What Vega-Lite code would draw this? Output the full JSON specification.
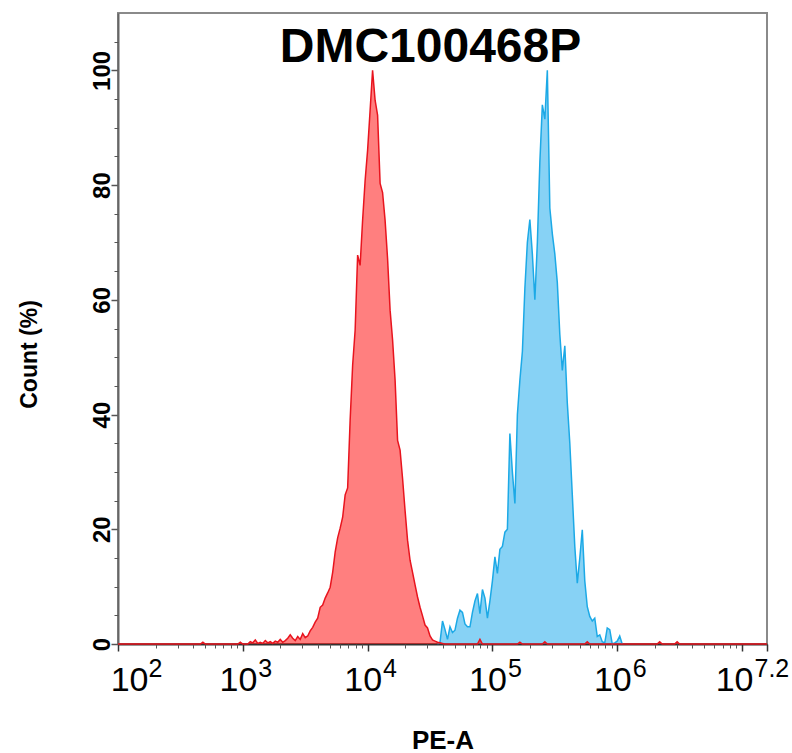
{
  "$schema": "https://vega.github.io/schema/vega-lite/v6.json",
  "width": 649,
  "height": 631,
  "autosize": {"type": "none"},
  "padding": {"left": 118, "top": 13, "right": 25, "bottom": 109},
  "background": "white",
  "config": {"view": {"stroke": "#8a8a8a", "strokeWidth": 2}, "font": "Liberation Sans"},
  "datasets": {
    "hist": [
      {"series": "control", "PE_A": 100, "count_pct": 0},
      {"series": "control", "PE_A": 457.1, "count_pct": 0},
      {"series": "control", "PE_A": 478.6, "count_pct": 0.3},
      {"series": "control", "PE_A": 501.2, "count_pct": 0},
      {"series": "control", "PE_A": 912, "count_pct": 0},
      {"series": "control", "PE_A": 955, "count_pct": 0.3},
      {"series": "control", "PE_A": 1000, "count_pct": 0},
      {"series": "control", "PE_A": 1096, "count_pct": 0},
      {"series": "control", "PE_A": 1148, "count_pct": 0.4},
      {"series": "control", "PE_A": 1202, "count_pct": 0.2},
      {"series": "control", "PE_A": 1259, "count_pct": 0.7},
      {"series": "control", "PE_A": 1318, "count_pct": 0.1},
      {"series": "control", "PE_A": 1380, "count_pct": 0.3},
      {"series": "control", "PE_A": 1445, "count_pct": 0.1},
      {"series": "control", "PE_A": 1514, "count_pct": 0.6},
      {"series": "control", "PE_A": 1585, "count_pct": 0.2},
      {"series": "control", "PE_A": 1660, "count_pct": 0.4},
      {"series": "control", "PE_A": 1738, "count_pct": 0.1},
      {"series": "control", "PE_A": 1820, "count_pct": 0.5},
      {"series": "control", "PE_A": 1905, "count_pct": 0.3},
      {"series": "control", "PE_A": 1995, "count_pct": 0.8},
      {"series": "control", "PE_A": 2089, "count_pct": 0.3},
      {"series": "control", "PE_A": 2188, "count_pct": 0.6},
      {"series": "control", "PE_A": 2291, "count_pct": 1.0},
      {"series": "control", "PE_A": 2399, "count_pct": 1.6},
      {"series": "control", "PE_A": 2512, "count_pct": 1.0},
      {"series": "control", "PE_A": 2630, "count_pct": 0.6},
      {"series": "control", "PE_A": 2754, "count_pct": 1.3},
      {"series": "control", "PE_A": 2884, "count_pct": 0.8},
      {"series": "control", "PE_A": 3020, "count_pct": 1.8},
      {"series": "control", "PE_A": 3162, "count_pct": 1.1},
      {"series": "control", "PE_A": 3311, "count_pct": 1.4},
      {"series": "control", "PE_A": 3467, "count_pct": 2.3},
      {"series": "control", "PE_A": 3631, "count_pct": 2.9},
      {"series": "control", "PE_A": 3802, "count_pct": 3.8},
      {"series": "control", "PE_A": 3981, "count_pct": 4.5},
      {"series": "control", "PE_A": 4169, "count_pct": 6.4},
      {"series": "control", "PE_A": 4365, "count_pct": 6.8},
      {"series": "control", "PE_A": 4571, "count_pct": 8.0},
      {"series": "control", "PE_A": 4786, "count_pct": 8.9},
      {"series": "control", "PE_A": 5012, "count_pct": 9.9},
      {"series": "control", "PE_A": 5248, "count_pct": 12.5},
      {"series": "control", "PE_A": 5495, "count_pct": 16.0},
      {"series": "control", "PE_A": 5754, "count_pct": 18.5},
      {"series": "control", "PE_A": 6026, "count_pct": 20.2},
      {"series": "control", "PE_A": 6310, "count_pct": 22.1},
      {"series": "control", "PE_A": 6607, "count_pct": 26.0},
      {"series": "control", "PE_A": 6918, "count_pct": 27.2},
      {"series": "control", "PE_A": 7244, "count_pct": 39.0},
      {"series": "control", "PE_A": 7586, "count_pct": 48.6},
      {"series": "control", "PE_A": 7943, "count_pct": 54.7},
      {"series": "control", "PE_A": 8318, "count_pct": 67.8},
      {"series": "control", "PE_A": 8710, "count_pct": 66.0},
      {"series": "control", "PE_A": 9120, "count_pct": 73.9},
      {"series": "control", "PE_A": 9550, "count_pct": 80.8},
      {"series": "control", "PE_A": 10000, "count_pct": 86.1},
      {"series": "control", "PE_A": 10470, "count_pct": 93.0},
      {"series": "control", "PE_A": 10960, "count_pct": 100},
      {"series": "control", "PE_A": 11480, "count_pct": 94.8},
      {"series": "control", "PE_A": 12020, "count_pct": 92.2},
      {"series": "control", "PE_A": 12590, "count_pct": 80.3},
      {"series": "control", "PE_A": 13180, "count_pct": 78.7},
      {"series": "control", "PE_A": 13800, "count_pct": 73.9},
      {"series": "control", "PE_A": 14450, "count_pct": 67.2},
      {"series": "control", "PE_A": 15140, "count_pct": 58.2},
      {"series": "control", "PE_A": 15850, "count_pct": 53.0},
      {"series": "control", "PE_A": 16600, "count_pct": 46.0},
      {"series": "control", "PE_A": 17380, "count_pct": 35.5},
      {"series": "control", "PE_A": 18200, "count_pct": 33.8},
      {"series": "control", "PE_A": 19050, "count_pct": 28.9},
      {"series": "control", "PE_A": 19950, "count_pct": 23.3},
      {"series": "control", "PE_A": 20890, "count_pct": 18.1},
      {"series": "control", "PE_A": 21880, "count_pct": 14.6},
      {"series": "control", "PE_A": 22910, "count_pct": 12.5},
      {"series": "control", "PE_A": 23990, "count_pct": 10.3},
      {"series": "control", "PE_A": 25120, "count_pct": 8.2},
      {"series": "control", "PE_A": 26300, "count_pct": 6.4},
      {"series": "control", "PE_A": 27540, "count_pct": 4.9},
      {"series": "control", "PE_A": 28840, "count_pct": 3.3},
      {"series": "control", "PE_A": 30200, "count_pct": 2.8},
      {"series": "control", "PE_A": 31620, "count_pct": 1.4},
      {"series": "control", "PE_A": 33110, "count_pct": 0.7},
      {"series": "control", "PE_A": 34670, "count_pct": 0.5},
      {"series": "control", "PE_A": 36310, "count_pct": 0.3},
      {"series": "control", "PE_A": 38020, "count_pct": 0.2},
      {"series": "control", "PE_A": 39810, "count_pct": 0.1},
      {"series": "control", "PE_A": 41690, "count_pct": 0},
      {"series": "control", "PE_A": 75860, "count_pct": 0},
      {"series": "control", "PE_A": 79430, "count_pct": 0.8},
      {"series": "control", "PE_A": 83180, "count_pct": 0},
      {"series": "control", "PE_A": 158500, "count_pct": 0},
      {"series": "control", "PE_A": 166000, "count_pct": 0.3},
      {"series": "control", "PE_A": 173800, "count_pct": 0},
      {"series": "control", "PE_A": 251200, "count_pct": 0},
      {"series": "control", "PE_A": 263000, "count_pct": 0.4},
      {"series": "control", "PE_A": 275400, "count_pct": 0},
      {"series": "control", "PE_A": 549500, "count_pct": 0},
      {"series": "control", "PE_A": 575400, "count_pct": 0.4},
      {"series": "control", "PE_A": 602600, "count_pct": 0},
      {"series": "control", "PE_A": 2089000, "count_pct": 0},
      {"series": "control", "PE_A": 2188000, "count_pct": 0.4},
      {"series": "control", "PE_A": 2291000, "count_pct": 0},
      {"series": "control", "PE_A": 2884000, "count_pct": 0},
      {"series": "control", "PE_A": 3020000, "count_pct": 0.4},
      {"series": "control", "PE_A": 3162000, "count_pct": 0},
      {"series": "control", "PE_A": 15848931, "count_pct": 0},
      {"series": "sample", "PE_A": 36310, "count_pct": 0},
      {"series": "sample", "PE_A": 38020, "count_pct": 0.3},
      {"series": "sample", "PE_A": 39810, "count_pct": 4.0},
      {"series": "sample", "PE_A": 41690, "count_pct": 2.5},
      {"series": "sample", "PE_A": 43650, "count_pct": 0.8},
      {"series": "sample", "PE_A": 45710, "count_pct": 3.0},
      {"series": "sample", "PE_A": 47860, "count_pct": 2.0},
      {"series": "sample", "PE_A": 50120, "count_pct": 2.4},
      {"series": "sample", "PE_A": 52480, "count_pct": 4.5},
      {"series": "sample", "PE_A": 54950, "count_pct": 5.9},
      {"series": "sample", "PE_A": 57540, "count_pct": 5.5},
      {"series": "sample", "PE_A": 60260, "count_pct": 3.5},
      {"series": "sample", "PE_A": 63100, "count_pct": 3.0},
      {"series": "sample", "PE_A": 66070, "count_pct": 3.0},
      {"series": "sample", "PE_A": 69180, "count_pct": 5.5},
      {"series": "sample", "PE_A": 72440, "count_pct": 7.5},
      {"series": "sample", "PE_A": 75860, "count_pct": 8.8},
      {"series": "sample", "PE_A": 79430, "count_pct": 5.3},
      {"series": "sample", "PE_A": 83180, "count_pct": 9.5},
      {"series": "sample", "PE_A": 87100, "count_pct": 8.0},
      {"series": "sample", "PE_A": 91200, "count_pct": 4.5},
      {"series": "sample", "PE_A": 95500, "count_pct": 7.5},
      {"series": "sample", "PE_A": 100000, "count_pct": 11.0},
      {"series": "sample", "PE_A": 104700, "count_pct": 15.2},
      {"series": "sample", "PE_A": 109600, "count_pct": 12.3},
      {"series": "sample", "PE_A": 114800, "count_pct": 16.5},
      {"series": "sample", "PE_A": 120200, "count_pct": 17.0},
      {"series": "sample", "PE_A": 125900, "count_pct": 19.5},
      {"series": "sample", "PE_A": 131800, "count_pct": 20.0},
      {"series": "sample", "PE_A": 138000, "count_pct": 36.7},
      {"series": "sample", "PE_A": 144500, "count_pct": 30.0},
      {"series": "sample", "PE_A": 151400, "count_pct": 24.5},
      {"series": "sample", "PE_A": 158500, "count_pct": 40.0},
      {"series": "sample", "PE_A": 166000, "count_pct": 46.0},
      {"series": "sample", "PE_A": 173800, "count_pct": 51.0},
      {"series": "sample", "PE_A": 182000, "count_pct": 62.0},
      {"series": "sample", "PE_A": 190500, "count_pct": 70.0},
      {"series": "sample", "PE_A": 199500, "count_pct": 74.0},
      {"series": "sample", "PE_A": 208900, "count_pct": 68.0},
      {"series": "sample", "PE_A": 218800, "count_pct": 60.0},
      {"series": "sample", "PE_A": 229100, "count_pct": 70.0},
      {"series": "sample", "PE_A": 239900, "count_pct": 84.0},
      {"series": "sample", "PE_A": 251200, "count_pct": 94.0},
      {"series": "sample", "PE_A": 263000, "count_pct": 91.5},
      {"series": "sample", "PE_A": 275400, "count_pct": 100},
      {"series": "sample", "PE_A": 288400, "count_pct": 76.0},
      {"series": "sample", "PE_A": 302000, "count_pct": 71.5},
      {"series": "sample", "PE_A": 316200, "count_pct": 68.0},
      {"series": "sample", "PE_A": 331100, "count_pct": 63.0},
      {"series": "sample", "PE_A": 346700, "count_pct": 54.0},
      {"series": "sample", "PE_A": 363100, "count_pct": 47.7},
      {"series": "sample", "PE_A": 380200, "count_pct": 52.0},
      {"series": "sample", "PE_A": 398100, "count_pct": 42.0},
      {"series": "sample", "PE_A": 416900, "count_pct": 35.0},
      {"series": "sample", "PE_A": 436500, "count_pct": 26.0},
      {"series": "sample", "PE_A": 457100, "count_pct": 17.0},
      {"series": "sample", "PE_A": 478600, "count_pct": 10.6},
      {"series": "sample", "PE_A": 501200, "count_pct": 15.0},
      {"series": "sample", "PE_A": 524800, "count_pct": 19.9},
      {"series": "sample", "PE_A": 549500, "count_pct": 11.0},
      {"series": "sample", "PE_A": 575400, "count_pct": 6.5},
      {"series": "sample", "PE_A": 602600, "count_pct": 4.8},
      {"series": "sample", "PE_A": 631000, "count_pct": 4.0},
      {"series": "sample", "PE_A": 660700, "count_pct": 4.5},
      {"series": "sample", "PE_A": 691800, "count_pct": 1.3},
      {"series": "sample", "PE_A": 724400, "count_pct": 1.6},
      {"series": "sample", "PE_A": 758600, "count_pct": 0.4},
      {"series": "sample", "PE_A": 794300, "count_pct": 0.2},
      {"series": "sample", "PE_A": 831800, "count_pct": 2.8},
      {"series": "sample", "PE_A": 871000, "count_pct": 2.5},
      {"series": "sample", "PE_A": 912000, "count_pct": 0},
      {"series": "sample", "PE_A": 955000, "count_pct": 0.2},
      {"series": "sample", "PE_A": 1000000, "count_pct": 0.5},
      {"series": "sample", "PE_A": 1047000, "count_pct": 1.4},
      {"series": "sample", "PE_A": 1096000, "count_pct": 0}
    ]
  },
  "data": {"name": "hist"},
  "layer": [
    {
      "transform": [{"filter": "datum.series === 'sample'"}],
      "mark": {"type": "area", "color": "#0FA5EB", "fillOpacity": 0.5, "interpolate": "linear"},
      "encoding": {
        "x": {"field": "PE_A", "type": "quantitative", "scale": {"type": "log", "domain": [100, 15848931.924611135], "nice": false},
          "axis": {"orient": "bottom", "values": [100, 1000, 10000, 100000, 1000000, 10000000, 15848931.924611135],
            "labelExpr": "datum.value > 9000000 && datum.value < 11000000 ? '' : '10'",
            "labelFont": "Liberation Sans", "labelFontSize": 34, "labelColor": "#000000",
            "labelAlign": "right", "labelBaseline": "alphabetic", "labelPadding": 39,
            "labelOffset": {"expr": "datum.value < 150 ? 30 : (datum.value > 12000000 ? -14 : 14)"},
            "labelOverlap": false, "labelBound": false, "labelFlush": false,
            "tickSize": 7, "tickColor": "#333333", "tickWidth": 1.5, "domainColor": "#333333", "domainWidth": 2, "grid": false,
            "title": "PE-A", "titleFont": "Liberation Sans", "titleFontSize": 26, "titleFontWeight": "bold", "titleColor": "#000000",
            "titleBaseline": "alphabetic", "titleY": 104, "titleAnchor": "middle"}},
        "y": {"field": "count_pct", "type": "quantitative", "scale": {"domain": [0, 110], "nice": false},
          "axis": {"orient": "left", "values": [0, 20, 40, 60, 80, 100], "labelAngle": -90, "labelAlign": "center", "labelBaseline": "alphabetic",
            "labelPadding": 2, "labelFontSize": 24, "labelFontWeight": "bold", "labelColor": "#000000", "labelOverlap": false, "labelBound": false, "labelFlush": false,
            "tickSize": 7, "tickColor": "#555555", "tickWidth": 1.5, "domainColor": "#666666", "domainWidth": 2, "grid": false,
            "title": "Count  (%)", "titleFontSize": 23, "titleFontWeight": "bold", "titleColor": "#000000", "titleAngle": -90,
            "titleBaseline": "alphabetic", "titleAlign": "center", "titleX": -82, "titleY": 341}}
      }
    },
    {
      "transform": [{"filter": "datum.series === 'sample'"}],
      "mark": {"type": "line", "color": "#1CA9E6", "strokeWidth": 1.5, "interpolate": "linear"},
      "encoding": {
        "x": {"field": "PE_A", "type": "quantitative", "scale": {"type": "log", "domain": [100, 15848931.924611135], "nice": false},
          "axis": {"orient": "bottom", "values": [100, 1000, 10000, 100000, 1000000, 10000000, 15848931.924611135],
            "labelExpr": "datum.value > 12000000 ? '7.2' : (datum.value > 9000000 ? '' : format(round(log(datum.value) / LN10), 'd'))",
            "labelFont": "Liberation Sans", "labelFontSize": 25, "labelColor": "#000000",
            "labelAlign": "left", "labelBaseline": "alphabetic", "labelPadding": 25,
            "labelOffset": {"expr": "datum.value < 150 ? 30 : (datum.value > 12000000 ? -13 : 15)"},
            "labelOverlap": false, "labelBound": false, "labelFlush": false,
            "tickSize": 7, "tickOpacity": 0, "domain": false, "grid": false, "title": null}},
        "y": {"field": "count_pct", "type": "quantitative", "scale": {"domain": [0, 110], "nice": false},
          "axis": {"orient": "left", "values": [5, 10, 15, 25, 30, 35, 45, 50, 55, 65, 70, 75, 85, 90, 95, 105], "labels": false,
            "tickSize": 4, "tickColor": "#555555", "tickWidth": 1, "domain": false, "grid": false, "title": null}}
      }
    },
    {
      "transform": [{"filter": "datum.series === 'control'"}],
      "mark": {"type": "area", "color": "#FF0000", "fillOpacity": 0.5, "interpolate": "linear"},
      "encoding": {
        "x": {"field": "PE_A", "type": "quantitative", "scale": {"type": "log", "domain": [100, 15848931.924611135], "nice": false},
          "axis": {"orient": "bottom", "values": [200, 300, 400, 500, 600, 700, 800, 900, 2000, 3000, 4000, 5000, 6000, 7000, 8000, 9000, 20000, 30000, 40000, 50000, 60000, 70000, 80000, 90000, 200000, 300000, 400000, 500000, 600000, 700000, 800000, 900000, 2000000, 3000000, 4000000, 5000000, 6000000, 7000000, 8000000, 9000000],
            "labels": false, "tickSize": 4, "tickColor": "#555555", "tickWidth": 1, "domain": false, "grid": false, "title": null}},
        "y": {"field": "count_pct", "type": "quantitative", "scale": {"domain": [0, 110], "nice": false}, "axis": null}
      }
    },
    {
      "transform": [{"filter": "datum.series === 'control'"}],
      "mark": {"type": "line", "color": "#E8141E", "strokeWidth": 1.5, "interpolate": "linear"},
      "encoding": {
        "x": {"field": "PE_A", "type": "quantitative", "scale": {"type": "log", "domain": [100, 15848931.924611135], "nice": false}, "axis": null},
        "y": {"field": "count_pct", "type": "quantitative", "scale": {"domain": [0, 110], "nice": false}, "axis": null}
      }
    },
    {
      "data": {"values": [{"label": "DMC100468P", "PE_A": 31900, "count_pct": 101.4}]},
      "mark": {"type": "text", "font": "Liberation Sans", "fontSize": 48, "fontWeight": "bold", "color": "#000000", "align": "center", "baseline": "alphabetic"},
      "encoding": {
        "x": {"field": "PE_A", "type": "quantitative", "scale": {"type": "log", "domain": [100, 15848931.924611135], "nice": false}, "axis": null},
        "y": {"field": "count_pct", "type": "quantitative", "scale": {"domain": [0, 110], "nice": false}, "axis": null},
        "text": {"field": "label"}
      }
    }
  ],
  "resolve": {"axis": {"x": "independent", "y": "independent"}}
}
